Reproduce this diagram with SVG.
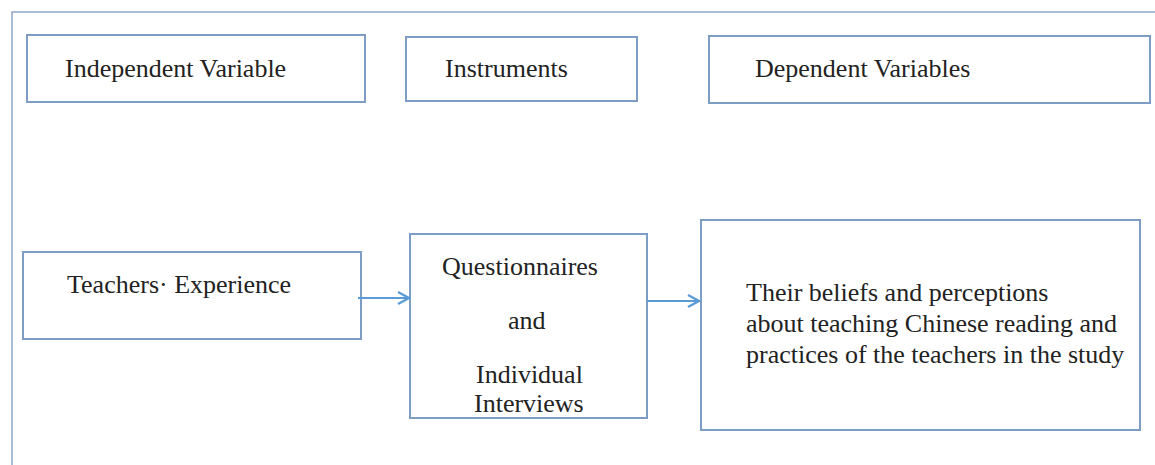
<svg xmlns="http://www.w3.org/2000/svg" width="1155" height="465" viewBox="0 0 1155 465">
<style>
.box{fill:#fff;stroke:#7d9dc4;stroke-width:2}
.frame{fill:none;stroke:#8aa6c6;stroke-width:1.5}
.t{font-family:"Liberation Serif",serif;font-size:26px;fill:#222}
.conn{stroke:#5b9bd5;stroke-width:2.2;fill:none}
</style>
<defs>
<marker id="ah" markerWidth="14" markerHeight="14" refX="12" refY="7" orient="auto" markerUnits="userSpaceOnUse">
<path d="M1,1 L12,7 L1,13" fill="none" stroke="#5b9bd5" stroke-width="2.2"/>
</marker>
</defs>
<rect width="1155" height="465" fill="#fff"/>
<path class="frame" d="M12,465 L12,12 L1155,12"/>
<g id="n1"><rect class="box" x="27" y="35" width="338" height="67"/><text class="t" x="65" y="77">Independent Variable</text></g>
<g id="n2"><rect class="box" x="406" y="37" width="231" height="64"/><text class="t" x="445" y="77">Instruments</text></g>
<g id="n3"><rect class="box" x="709" y="36" width="441" height="67"/><text class="t" x="755" y="77">Dependent Variables</text></g>
<g id="n4"><rect class="box" x="23" y="252" width="338" height="87"/><text class="t" x="67" y="293">Teachers· Experience</text></g>
<g id="n5"><rect class="box" x="410" y="234" width="237" height="184"/>
<text class="t" x="442" y="275">Questionnaires</text>
<text class="t" x="508" y="329">and</text>
<text class="t" x="476" y="383">Individual</text>
<text class="t" x="474" y="412">Interviews</text></g>
<g id="n6"><rect class="box" x="701" y="220" width="439" height="210"/>
<text class="t" x="746" y="301">Their beliefs and perceptions</text>
<text class="t" x="746" y="332">about teaching Chinese reading and</text>
<text class="t" x="746" y="363">practices of the teachers in the study</text></g>
<g id="connectors">
<line class="conn" x1="358" y1="298" x2="409" y2="298" marker-end="url(#ah)"/>
<line class="conn" x1="647" y1="301" x2="699" y2="301" marker-end="url(#ah)"/>
</g>
</svg>
